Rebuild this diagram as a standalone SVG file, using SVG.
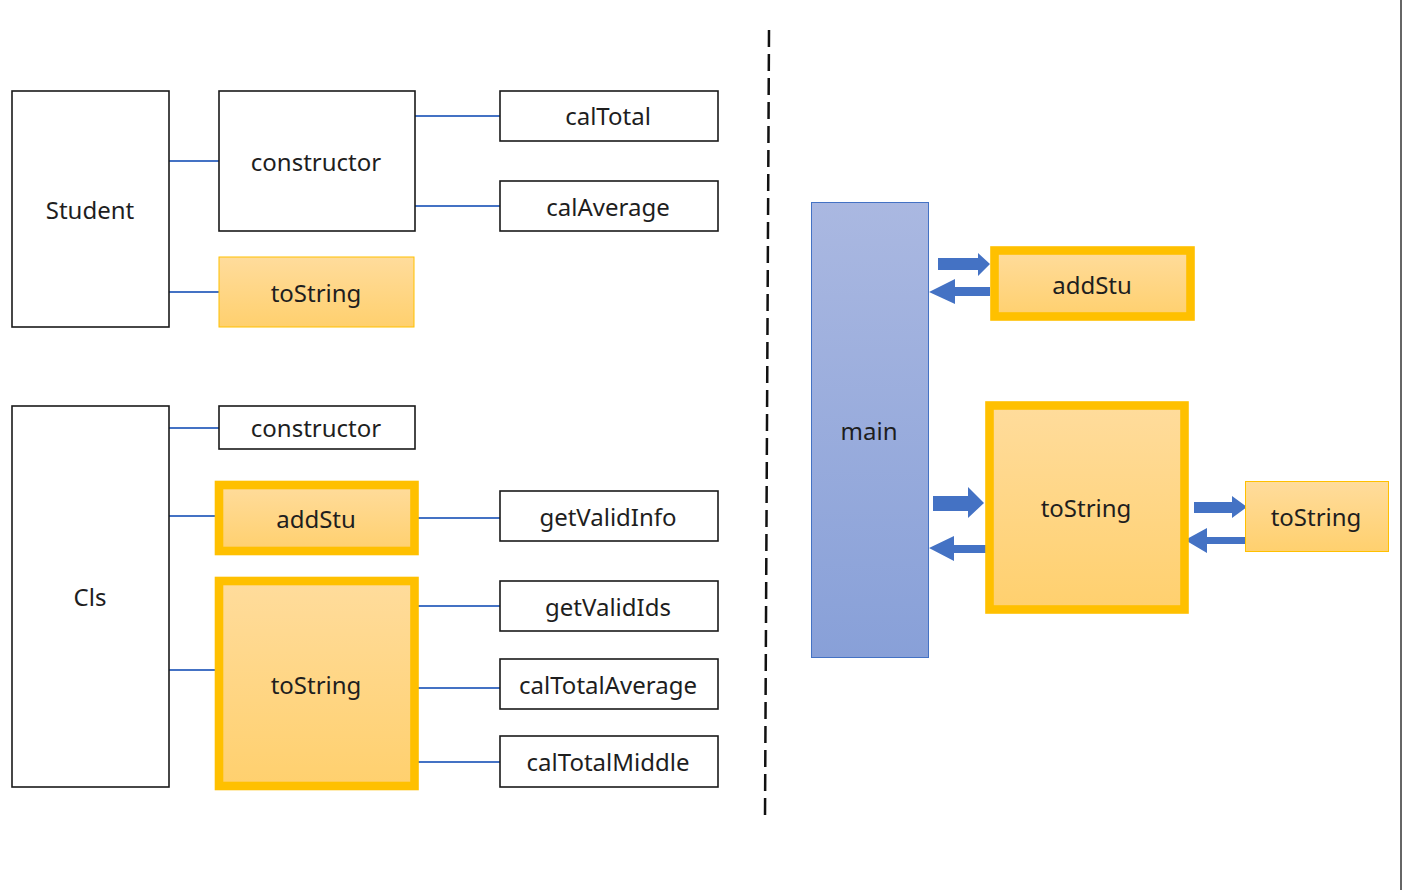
<svg xmlns="http://www.w3.org/2000/svg" width="1402" height="890" viewBox="0 0 1402 890">
<defs>
<linearGradient id="gold" x1="0" y1="0" x2="0" y2="1">
<stop offset="0" stop-color="#FFDC9C"/>
<stop offset="1" stop-color="#FFD06E"/>
</linearGradient>
<linearGradient id="blue" x1="0" y1="0" x2="0" y2="1">
<stop offset="0" stop-color="#AAB8E1"/>
<stop offset="1" stop-color="#88A0D8"/>
</linearGradient>
</defs>
<style>
text{font-family:"Noto Sans","Liberation Sans",sans-serif;font-size:24px;fill:#1e1e1e;text-anchor:middle}
.box{fill:#fff;stroke:#1a1a1a;stroke-width:1.6}
.gold{fill:url(#gold);stroke:#FFC000;stroke-width:1}
.goldthick{fill:url(#gold);stroke:#FFC000;stroke-width:8.6}
.main{fill:url(#blue);stroke:#4472C4;stroke-width:1}
.link{stroke:#4472C4;stroke-width:2;fill:none}
.arrow{fill:#4472C4}
</style>
<rect x="0" y="0" width="1402" height="890" fill="#fff"/>
<rect x="1400" y="0" width="2" height="890" fill="#666"/>
<line x1="769" y1="30" x2="765" y2="818" stroke="#111" stroke-width="2.5" stroke-dasharray="17 7"/>

<g id="connectors">
<line class="link" x1="169" y1="161" x2="219" y2="161"/>
<line class="link" x1="169" y1="292" x2="219" y2="292"/>
<line class="link" x1="415" y1="116" x2="500" y2="116"/>
<line class="link" x1="415" y1="206" x2="500" y2="206"/>
<line class="link" x1="169" y1="428" x2="219" y2="428"/>
<line class="link" x1="169" y1="516" x2="215" y2="516"/>
<line class="link" x1="169" y1="670" x2="215" y2="670"/>
<line class="link" x1="418" y1="518" x2="500" y2="518"/>
<line class="link" x1="418" y1="606" x2="500" y2="606"/>
<line class="link" x1="418" y1="688" x2="500" y2="688"/>
<line class="link" x1="418" y1="762" x2="500" y2="762"/>
<polygon class="arrow" points="938,258 978,258 978,253 990,264 978,276 978,270 938,270"/>
<polygon class="arrow" points="990,287 955,287 955,279 929,292 955,304 955,296 990,296"/>
<polygon class="arrow" points="933,496 968,496 968,487 984,503 968,518 968,511 933,511"/>
<polygon class="arrow" points="989,545 954,545 954,536 929,548 954,561 954,553 989,553"/>
<polygon class="arrow" points="1194,502 1232,502 1232,496 1247,507 1232,518 1232,513 1194,513"/>
<polygon class="arrow" points="1245,537 1207,537 1207,528 1185,540 1207,553 1207,544 1245,544"/>
</g>

<g id="student"><rect class="box" x="12" y="91" width="157" height="236"/><text x="90" y="219">Student</text></g>
<g id="student-constructor"><rect class="box" x="219" y="91" width="196" height="140"/><text x="316" y="171">constructor</text></g>
<g id="student-tostring"><rect class="gold" x="219" y="257" width="195" height="70"/><text x="316" y="302">toString</text></g>
<g id="caltotal"><rect class="box" x="500" y="91" width="218" height="50"/><text x="608" y="125">calTotal</text></g>
<g id="calaverage"><rect class="box" x="500" y="181" width="218" height="50"/><text x="608" y="216">calAverage</text></g>

<g id="cls"><rect class="box" x="12" y="406" width="157" height="381"/><text x="90" y="606">Cls</text></g>
<g id="cls-constructor"><rect class="box" x="219" y="406" width="196" height="43"/><text x="316" y="437">constructor</text></g>
<g id="cls-addstu"><rect class="goldthick" x="219" y="485" width="195.5" height="66"/><text x="316" y="528">addStu</text></g>
<g id="cls-tostring"><rect class="goldthick" x="219" y="581" width="195.5" height="205"/><text x="316" y="694">toString</text></g>
<g id="getvalidinfo"><rect class="box" x="500" y="491" width="218" height="50"/><text x="608" y="526">getValidInfo</text></g>
<g id="getvalidids"><rect class="box" x="500" y="581" width="218" height="50"/><text x="608" y="616">getValidIds</text></g>
<g id="caltotalaverage"><rect class="box" x="500" y="659" width="218" height="50"/><text x="608" y="694">calTotalAverage</text></g>
<g id="caltotalmiddle"><rect class="box" x="500" y="736" width="218" height="51"/><text x="608" y="771">calTotalMiddle</text></g>

<g id="main"><rect class="main" x="811.5" y="202.5" width="117" height="455"/><text x="869" y="440">main</text></g>
<g id="main-addstu"><rect class="goldthick" x="994.5" y="250.5" width="196" height="66"/><text x="1092" y="294">addStu</text></g>
<g id="main-tostring"><rect class="goldthick" x="989.5" y="405.5" width="195" height="204"/><text x="1086" y="517">toString</text></g>
<g id="cls-tostring-right"><rect class="gold" x="1245.5" y="481.5" width="143" height="70"/><text x="1316" y="526">toString</text></g>
</svg>
